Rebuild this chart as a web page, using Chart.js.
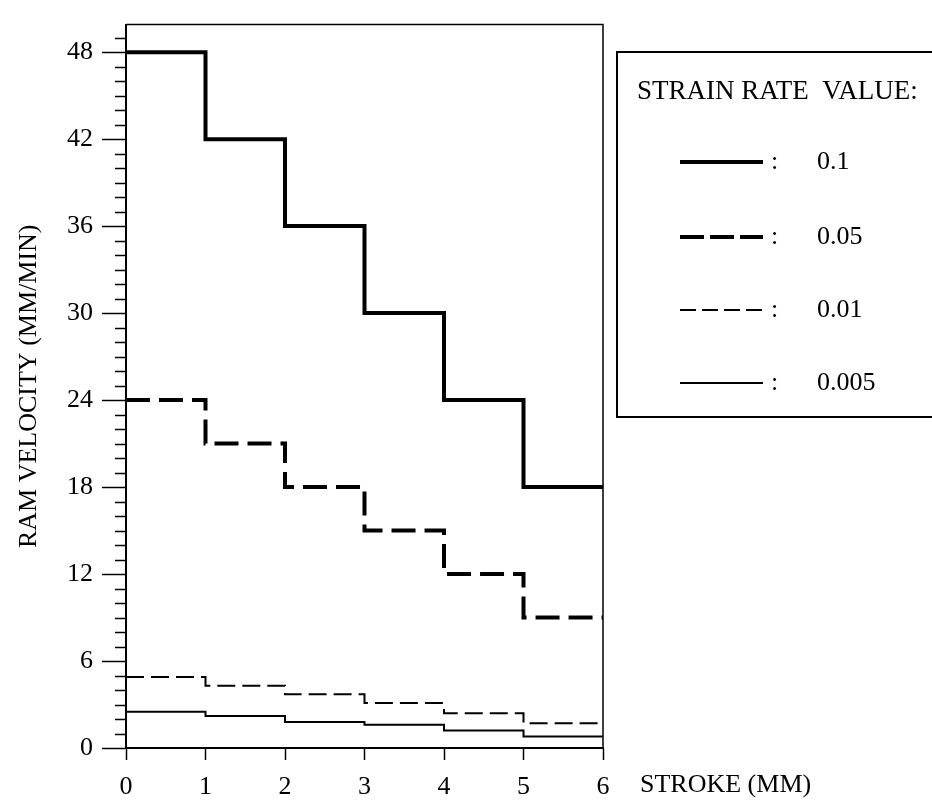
<!DOCTYPE html>
<html><head><meta charset="utf-8">
<script src="https://cdn.jsdelivr.net/npm/chart.js@4.4.1/dist/chart.umd.min.js"></script>
<style>html,body{margin:0;padding:0;background:#fff}canvas{display:block}</style>
</head><body>
<canvas id="c" width="932" height="808"></canvas>
<script>
const strokes = [0, 1, 2, 3, 4, 5, 6];
const rate0_1 = [48, 42, 36, 30, 24, 18, 18];
const rate0_05 = [24, 21, 18, 15, 12, 9, 9];
const rate0_01 = [4.9, 4.3, 3.7, 3.1, 2.4, 1.7, 1.7];
const rate0_005 = [2.5, 2.2, 1.8, 1.6, 1.2, 0.8, 0.8];
const rateLabels = ['0.1', '0.05', '0.01', '0.005'];
const yTickLabels = ['0', '6', '12', '18', '24', '30', '36', '42', '48'];
const xTickLabels = ['0', '1', '2', '3', '4', '5', '6'];
const legendTitle = 'STRAIN RATE  VALUE:';
const xTitle = 'STROKE (MM)';
const yTitle = 'RAM VELOCITY (MM/MIN)';

const FONT = '"Liberation Serif", "Times New Roman", serif';
Chart.defaults.font.family = FONT;
Chart.defaults.color = '#000';

const toXY = vals => strokes.map((s, i) => ({x: s, y: vals[i]}));
const styles = [
  {w: 4, dash: [], legendDash: []},
  {w: 4, dash: [24, 9], legendDash: [24, 6]},
  {w: 2, dash: [18, 7], legendDash: [16, 6]},
  {w: 2, dash: [], legendDash: []}
];
const seriesVals = [rate0_1, rate0_05, rate0_01, rate0_005];

const datasets = seriesVals.map((v, i) => ({
  label: rateLabels[i],
  data: toXY(v),
  borderColor: '#000',
  borderWidth: styles[i].w,
  borderDash: styles[i].dash,
  borderCapStyle: 'butt',
  borderJoinStyle: 'miter',
  pointRadius: 0,
  stepped: 'before',
  fill: false,
  clip: false,
  legendDash: styles[i].legendDash
}));

const decor = {
  id: 'decor',
  afterDraw(chart) {
    const {ctx, chartArea: a, scales: {x, y}} = chart;
    ctx.save();
    ctx.strokeStyle = '#000';
    ctx.fillStyle = '#000';
    ctx.lineWidth = 1.5;
    ctx.beginPath();
    ctx.moveTo(a.left, a.top); ctx.lineTo(a.right, a.top); ctx.lineTo(a.right, a.bottom);
    ctx.stroke();
    ctx.beginPath();
    for (let v = 1; v < y.max; v++) {
      if (v % 6 === 0) continue;
      const py = Math.round(y.getPixelForValue(v)) + 0.5;
      ctx.moveTo(a.left - 11, py); ctx.lineTo(a.left, py);
    }
    ctx.stroke();
    ctx.font = '26px ' + FONT;
    ctx.textAlign = 'left';
    ctx.textBaseline = 'middle';
    ctx.fillText(xTitle, a.right + 37, a.bottom + 37);
    const bx = a.right + 14, by = 52, bb = 417;
    ctx.lineWidth = 2;
    ctx.beginPath();
    ctx.moveTo(chart.width + 5, by); ctx.lineTo(bx, by); ctx.lineTo(bx, bb); ctx.lineTo(chart.width + 5, bb);
    ctx.stroke();
    ctx.font = '27px ' + FONT;
    ctx.fillText(legendTitle, bx + 20, 92);
    const rowsY = [162, 237, 310, 383];
    chart.data.datasets.forEach((ds, i) => {
      const ry = rowsY[i];
      ctx.save();
      ctx.lineWidth = ds.borderWidth;
      ctx.setLineDash(ds.legendDash);
      ctx.lineCap = 'butt';
      ctx.beginPath();
      ctx.moveTo(bx + 63, ry); ctx.lineTo(bx + 146, ry);
      ctx.stroke();
      ctx.restore();
      ctx.font = '26px ' + FONT;
      ctx.fillText(':', bx + 154, ry);
      ctx.fillText(ds.label, bx + 200, ry);
    });
    ctx.restore();
  }
};

new Chart(document.getElementById('c'), {
  type: 'line',
  data: {datasets},
  options: {
    responsive: false,
    animation: false,
    devicePixelRatio: 1,
    layout: {padding: {left: 0, top: 7, right: 329, bottom: 0}},
    plugins: {legend: {display: false}, tooltip: {enabled: false}},
    scales: {
      x: {
        type: 'linear', min: 0, max: 6,
        ticks: {stepSize: 1, includeBounds: false, padding: 12, font: {size: 26},
          callback: v => xTickLabels[v] ?? ''},
        grid: {drawOnChartArea: false, drawTicks: true, tickLength: 12, tickColor: '#000', tickWidth: 1.5},
        border: {display: true, color: '#000', width: 2},
        afterFit: s => { s.height = 60; }
      },
      y: {
        type: 'linear', min: 0, max: 49.9,
        ticks: {stepSize: 6, includeBounds: false, padding: 9, font: {size: 26},
          callback: v => yTickLabels[v / 6] ?? ''},
        grid: {drawOnChartArea: false, drawTicks: true, tickLength: 24, tickColor: '#000', tickWidth: 1.5},
        border: {display: true, color: '#000', width: 2},
        title: {display: true, text: yTitle, font: {size: 26}, padding: {top: 14, bottom: 0}},
        afterFit: s => { s.width = 126; }
      }
    }
  },
  plugins: [decor]
});
</script>
</body></html>
